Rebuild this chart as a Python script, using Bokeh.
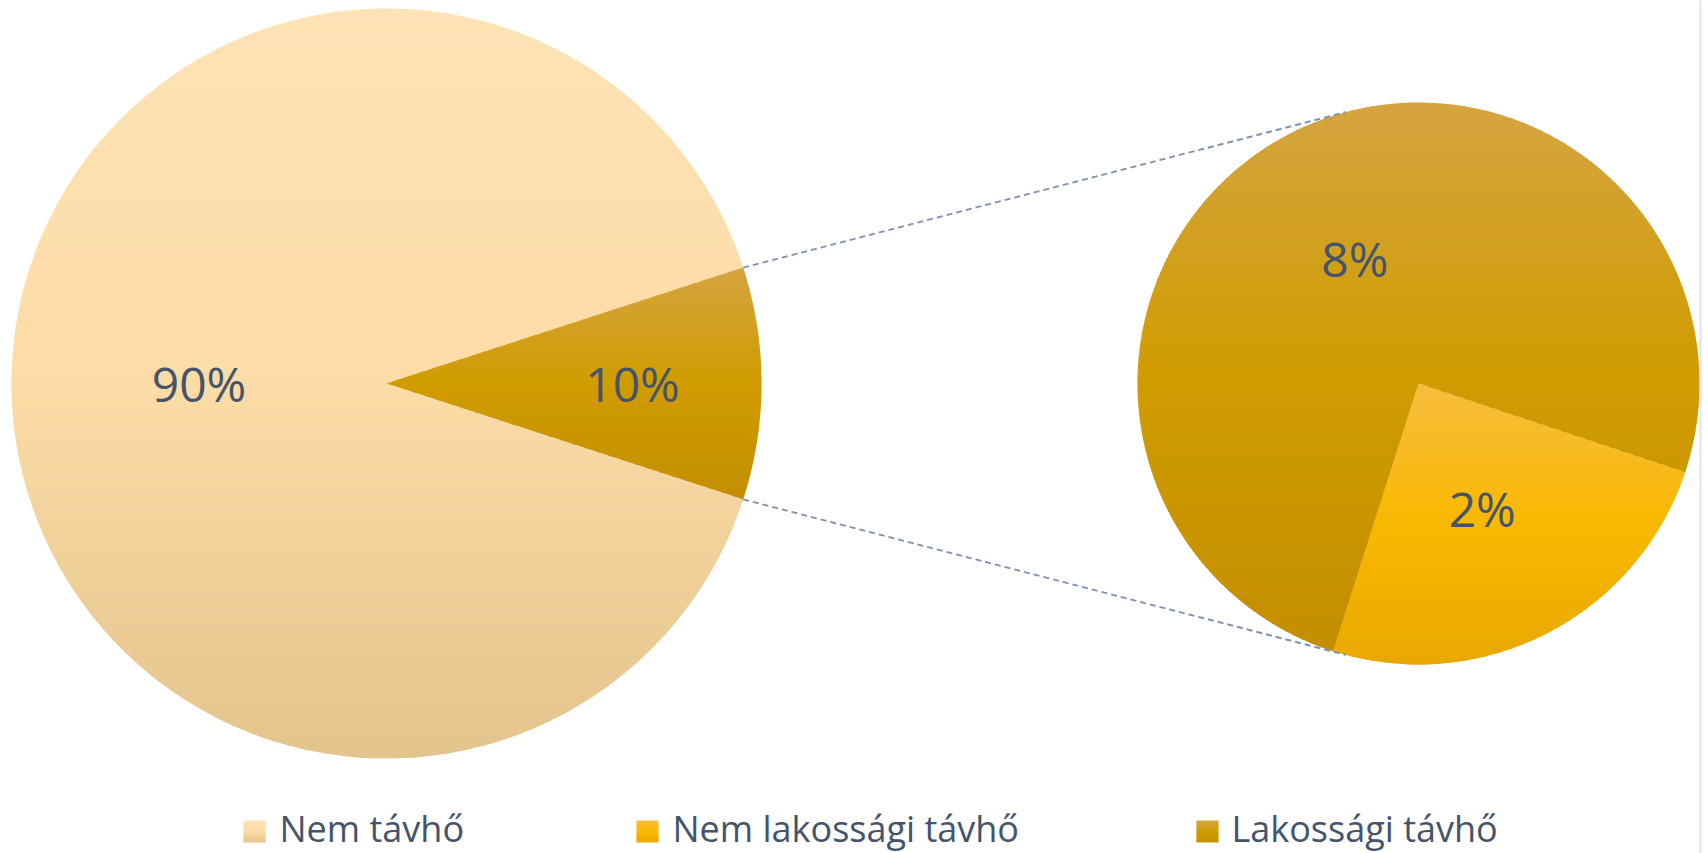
import numpy as np
from bokeh.plotting import figure
from bokeh.models import Range1d
from bokeh.embed import file_html
from bokeh.resources import INLINE
from bokeh.core.properties import value

# ---------------- data ----------------
main_labels = ["Nem távhő", "Távhő"]
main_values = [90, 10]
sub_labels = ["Nem lakossági távhő", "Lakossági távhő"]
sub_values = [2.48, 7.52]
legend_labels = ["Nem távhő", "Nem lakossági távhő", "Lakossági távhő"]

# ---------------- layout / style ----------------
W, H = 1708, 853
LC, LR = (386.0, 383.0), 375.0     # main pie centre / radius (px)
RC, RR = (1418.0, 383.0), 281.0    # secondary pie centre / radius (px)
SUB_START = -18.4                  # start angle of secondary pie (deg)
CONNECT_ANGLE = 105.0              # where connector lines meet the secondary pie
TEXT_COLOR = "#44546A"
FONT = "Open Sans"

GRAD = {
    "Nem távhő": ["#FFE3B6", "#FCDCA6", "#E4C48D"],
    "Távhő": ["#D5A440", "#D09C00", "#C48E00"],
    "Nem lakossági távhő": ["#F7BD3E", "#F9B800", "#E8A800"],
    "Lakossági távhő": ["#D5A440", "#D09C00", "#C48E00"],
}
LEGEND_X = [243, 636, 1196]
LEGEND_TEXT_X = [279, 672, 1231]
LEGEND_Y = (820, 842)
LEGEND_TEXT_Y = 828


def hex2rgb(h):
    h = h.lstrip("#")
    return np.array([int(h[i:i + 2], 16) for i in (0, 2, 4)], dtype=float)


def grad_color(stops, t):
    t = min(max(t, 0.0), 1.0)
    c = [hex2rgb(s) for s in stops]
    if t <= 0.5:
        u = t / 0.5
        v = c[0] * (1 - u) + c[1] * u
    else:
        u = (t - 0.5) / 0.5
        v = c[1] * (1 - u) + c[2] * u
    return "#%02x%02x%02x" % tuple(int(round(x)) for x in v)


def sector(c, r, a0, a1, n=240):
    ang = np.radians(np.linspace(a0, a1, n))
    xs = [c[0]] + list(c[0] + r * np.cos(ang))
    ys = [c[1]] + list(c[1] - r * np.sin(ang))
    return xs, ys


def _clip(pts, inside, inter):
    out = []
    for i in range(len(pts)):
        cur, prev = pts[i], pts[i - 1]
        if inside(cur):
            if not inside(prev):
                out.append(inter(prev, cur))
            out.append(cur)
        elif inside(prev):
            out.append(inter(prev, cur))
    return out


def _ix(yc):
    def f(p, q):
        t = (yc - p[1]) / (q[1] - p[1])
        return (p[0] + t * (q[0] - p[0]), yc)
    return f


def clip_band(xs, ys, ya, yb):
    pts = list(zip(xs, ys))
    pts = _clip(pts, lambda p: p[1] >= ya, _ix(ya))
    if len(pts) < 3:
        return None
    pts = _clip(pts, lambda p: p[1] <= yb, _ix(yb))
    if len(pts) < 3:
        return None
    return pts


def gradient_bands(xs, ys, stops, step=4.0, overlap=1.2):
    top, bot = min(ys), max(ys)
    out_x, out_y, out_c = [], [], []
    y = top
    while y < bot:
        yb = min(y + step + overlap, bot)
        pts = clip_band(xs, ys, y, yb)
        if pts:
            out_x.append([p[0] for p in pts])
            out_y.append([p[1] for p in pts])
            out_c.append(grad_color(stops, (y + step / 2 - top) / (bot - top)))
        y += step
    return out_x, out_y, out_c


p = figure(width=W, height=H, output_backend="svg", toolbar_location=None,
           x_range=Range1d(0, W), y_range=Range1d(H, 0),
           min_border=0, x_axis_location=None, y_axis_location=None,
           background_fill_color="white", border_fill_color="white")
p.outline_line_color = None
p.xgrid.visible = False
p.ygrid.visible = False

all_x, all_y, all_c = [], [], []
labels_x, labels_y, labels_t = [], [], []

# main pie: small slice centred on the right
tot = sum(main_values)
half = 180.0 * main_values[1] / tot
main_angles = [(half, half + 360.0 * main_values[0] / tot), (-half, half)]
main_label_frac = [0.5, 0.656]
for lab, v, (a0, a1), fr in zip(main_labels, main_values, main_angles, main_label_frac):
    xs, ys = sector(LC, LR, a0, a1)
    bx, by, bc = gradient_bands(xs, ys, GRAD[lab])
    all_x += bx; all_y += by; all_c += bc
    mid = np.radians((a0 + a1) / 2)
    labels_x.append(LC[0] + fr * LR * np.cos(mid))
    labels_y.append(LC[1] - fr * LR * np.sin(mid))
    labels_t.append("%.0f%%" % v)

# secondary pie, clockwise from SUB_START
stot = sum(sub_values)
a = SUB_START
for lab, v in zip(sub_labels, sub_values):
    span = 360.0 * v / stot
    a0, a1 = a - span, a
    xs, ys = sector(RC, RR, a0, a1)
    bx, by, bc = gradient_bands(xs, ys, GRAD[lab])
    all_x += bx; all_y += by; all_c += bc
    mid = np.radians((a0 + a1) / 2)
    labels_x.append(RC[0] + 0.5 * RR * np.cos(mid))
    labels_y.append(RC[1] - 0.5 * RR * np.sin(mid))
    labels_t.append("%.0f%%" % v)
    a = a0

# legend squares
for lab, lx in zip(legend_labels, LEGEND_X):
    xs = [lx, lx + 22, lx + 22, lx]
    ys = [LEGEND_Y[0], LEGEND_Y[0], LEGEND_Y[1], LEGEND_Y[1]]
    bx, by, bc = gradient_bands(xs, ys, GRAD[lab], step=2.0, overlap=0.8)
    all_x += bx; all_y += by; all_c += bc

p.patches(all_x, all_y, fill_color=all_c, line_color=None)

# connector lines
cx0 = [LC[0] + LR * np.cos(np.radians(half)), LC[0] + LR * np.cos(np.radians(-half))]
cy0 = [LC[1] - LR * np.sin(np.radians(half)), LC[1] - LR * np.sin(np.radians(-half))]
cx1 = [RC[0] + RR * np.cos(np.radians(CONNECT_ANGLE)), RC[0] + RR * np.cos(np.radians(-CONNECT_ANGLE))]
cy1 = [RC[1] - RR * np.sin(np.radians(CONNECT_ANGLE)), RC[1] - RR * np.sin(np.radians(-CONNECT_ANGLE))]
p.segment(cx0, cy0, cx1, cy1, line_color="#7F93AF", line_width=2, line_dash="6 4")

# data labels
p.text(labels_x, labels_y, text=labels_t, text_font=value(FONT), text_font_size="48px",
       text_color=TEXT_COLOR, text_align="center", text_baseline="middle")

# legend texts
p.text(LEGEND_TEXT_X, [LEGEND_TEXT_Y] * 3, text=legend_labels,
       text_font=value(FONT), text_font_size="36px", text_color=TEXT_COLOR,
       text_align="left", text_baseline="middle")

# right border line
p.segment([1700], [0], [1700], [H], line_color="#DEE3ED", line_width=2)

open("out.html", "w").write(file_html(p, INLINE))
